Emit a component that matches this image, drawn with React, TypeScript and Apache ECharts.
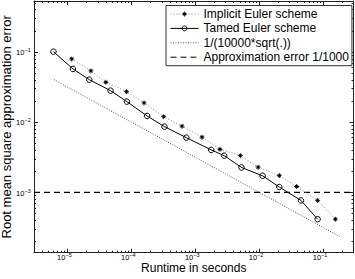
import React, { useEffect, useRef } from "react";
import * as echarts from "echarts";

const runtimeImplicit = [1.17e-5, 2.33e-5, 4.0e-5, 8.41e-5, 1.58e-4, 3.21e-4, 6.22e-4, 1.28e-3, 2.44e-3, 5.09e-3, 9.65e-3, 0.0207, 0.0387, 0.0824, 0.156];
const errorImplicit = [0.0795, 0.0536, 0.037, 0.0272, 0.0188, 0.01197, 0.00875, 0.0061, 0.00411, 0.00333, 0.00228, 0.00173, 0.00121, 7.67e-4, 4.14e-4];
const runtimeTamed = [6.05e-6, 1.22e-5, 2.2e-5, 4.73e-5, 8.51e-5, 1.77e-4, 3.3e-4, 7.27e-4, 1.78e-3, 2.84e-3, 5.3e-3, 0.01135, 0.0207, 0.0452, 0.0824];
const errorTamed = [0.101, 0.0573, 0.0403, 0.0281, 0.0196, 0.01225, 0.00863, 0.00601, 0.00402, 0.00333, 0.00226, 0.00172, 0.00119, 7.67e-4, 4.14e-4];
const runtimeRef = [6.18e-6, 0.1815];
const errorRef = [0.0403, 2.35e-4];
const runtimeThreshold = [3e-6, 0.3];
const errorThreshold = [1e-3, 1e-3];

const seriesNames = ["Implicit Euler scheme", "Tamed Euler scheme", "1/(10000*sqrt(.))", "Approximation error 1/1000"];
const xLimits = [3e-6, 0.3];
const yLimits = [1.38e-4, 0.532];
const xName = "Runtime in seconds";
const yName = "Root mean square approximation error";

const asterisk =
  "path://M4.2,0 H5.8 V10 H4.2 Z M0,4.2 H10 V5.8 H0 Z M2.4,1.3 L8.7,7.6 L7.6,8.7 L1.3,2.4 Z M7.6,1.3 L8.7,2.4 L2.4,8.7 L1.3,7.6 Z";

const FONT = "Liberation Sans, Arial, Helvetica, sans-serif";

const fmt = (v: number) => {
  const e = Math.round(Math.log10(v));
  return `{b|10}{e|${e < 0 ? "\u2212" : ""}${Math.abs(e)}}`;
};

const rich = {
  b: { fontSize: 7.5, lineHeight: 9.5, verticalAlign: "bottom", color: "#000", fontFamily: FONT },
  e: { fontSize: 5.5, lineHeight: 9.5, verticalAlign: "top", color: "#000", fontFamily: FONT },
};

const axisCommon = (type: "x" | "y") => ({
  type: "log",
  logBase: 10,
  min: type === "x" ? xLimits[0] : yLimits[0],
  max: type === "x" ? xLimits[1] : yLimits[1],
  splitLine: { show: false },
  axisLine: { show: true, lineStyle: { color: "#222", width: 1 } },
  axisTick: { show: true, inside: true, length: 4, lineStyle: { color: "#222", width: 1 } },
  minorTick: { show: true, splitNumber: 9, length: 2, lineStyle: { color: "#222", width: 1 } },
  minorSplitLine: { show: false },
});

export default function App() {
  const ref = useRef<HTMLDivElement>(null);
  useEffect(() => {
    if (!ref.current) return;
    const chart = echarts.init(ref.current, undefined, { renderer: "svg" });
    chart.setOption({
      animation: false,
      backgroundColor: "#fff",
      textStyle: { fontFamily: FONT },
      grid: { left: 34, right: 1.5, top: 1, bottom: 26.3, containLabel: false, outerBoundsMode: "none" },
      legend: {
        orient: "vertical",
        left: 166,
        top: 5.5,
        padding: [2.5, 3, 2.5, 4],
        itemWidth: 28,
        itemHeight: 6,
        itemGap: 2.4,
        backgroundColor: "#fff",
        borderColor: "#333",
        borderWidth: 1,
        borderRadius: 0,
        lineStyle: { width: 1 },
        itemStyle: { borderWidth: 1 },
        textStyle: { fontSize: 12, color: "#000", fontFamily: FONT },
        data: seriesNames,
      },
      xAxis: [
        {
          ...axisCommon("x"),
          position: "bottom",
          name: xName,
          nameLocation: "middle",
          nameGap: 9,
          nameMoveOverlap: false,
          nameTextStyle: { fontSize: 12, color: "#000", fontFamily: FONT },
          axisLabel: { formatter: fmt, rich, margin: -0.5, padding: [0, 6, 0, 0], showMinLabel: false, showMaxLabel: false },
        },
        {
          ...axisCommon("x"),
          position: "top",
          axisLabel: { show: false },
        },
      ],
      yAxis: [
        {
          ...axisCommon("y"),
          position: "left",
          name: yName,
          nameLocation: "middle",
          nameGap: 21,
          nameMoveOverlap: false,
          nameTextStyle: { fontSize: 13, color: "#000", fontFamily: FONT },
          axisLabel: { formatter: fmt, rich, margin: 3.3, showMinLabel: false, showMaxLabel: false },
        },
        {
          ...axisCommon("y"),
          position: "right",
          axisLabel: { show: false },
        },
      ],
      series: [
        {
          name: seriesNames[0],
          type: "line",
          data: runtimeImplicit.map((x, i) => [x, errorImplicit[i]]),
          symbol: asterisk,
          symbolSize: 5,
          itemStyle: { color: "#000" },
          lineStyle: { color: "#888", width: 1, type: [1, 2] },
          z: 3,
        },
        {
          name: seriesNames[1],
          type: "line",
          data: runtimeTamed.map((x, i) => [x, errorTamed[i]]),
          symbol: "circle",
          symbolSize: 5.5,
          itemStyle: { color: "transparent", borderColor: "#000", borderWidth: 1 },
          lineStyle: { color: "#000", width: 1 },
          z: 4,
        },
        {
          name: seriesNames[2],
          type: "line",
          data: runtimeRef.map((x, i) => [x, errorRef[i]]),
          symbol: "circle",
          showSymbol: false,
          itemStyle: { color: "transparent", borderColor: "transparent" },
          lineStyle: { color: "#555", width: 1, type: [1, 1.5] },
          z: 2,
        },
        {
          name: seriesNames[3],
          type: "line",
          data: runtimeThreshold.map((x, i) => [x, errorThreshold[i]]),
          symbol: "circle",
          showSymbol: false,
          itemStyle: { color: "transparent", borderColor: "transparent" },
          lineStyle: { color: "#000", width: 1.2, type: [6, 4] },
          z: 2,
        },
      ],
    });
    return () => chart.dispose();
  }, []);
  return <div ref={ref} style={{ position: "fixed", left: 0, top: 0, width: 355, height: 279 }} />;
}
